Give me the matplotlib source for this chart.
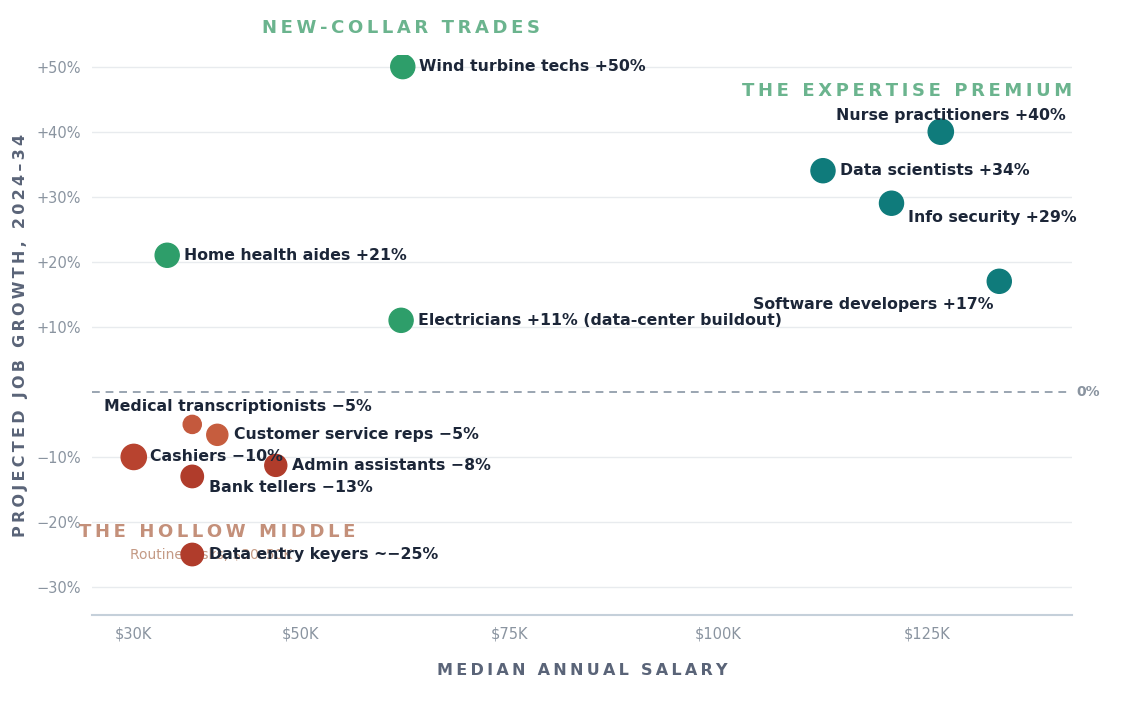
import matplotlib.pyplot as plt

jobs = ["Wind turbine techs +50%", "Nurse practitioners +40%", "Data scientists +34%",
        "Info security +29%", "Software developers +17%", "Home health aides +21%",
        "Electricians +11% (data-center buildout)", "Medical transcriptionists \u22125%",
        "Customer service reps \u22125%", "Cashiers \u221210%", "Admin assistants \u22128%",
        "Bank tellers \u221213%", "Data entry keyers ~\u221225%"]
salary = [62.2, 126.6, 112.5, 120.7, 133.6, 34, 62, 37, 40, 30, 47, 37, 37]
growth = [50, 40, 34, 29, 17, 21, 11, -5, -6.6, -10, -11.3, -13, -25]
sizes = [300, 330, 300, 300, 300, 300, 300, 170, 230, 330, 250, 260, 260]
colors = ["#2e9e6a", "#0f7b7b", "#0f7b7b", "#0f7b7b", "#0f7b7b", "#2e9e6a", "#2e9e6a",
          "#c4593d", "#c65d3e", "#b8432f", "#b03c2b", "#b03c2b", "#b03c2b"]
# label offsets in points (dx, dy, ha)
offs = [(12, 0, "left"), (90, 12, "right"), (12, 0, "left"), (12, -10, "left"),
        (-4, -17, "right"), (12, 0, "left"), (12, 0, "left"), (129, 13, "right"),
        (12, 0, "left"), (12, 0, "left"), (12, 0, "left"), (12, -8, "left"), (12, 0, "left")]


def spaced(s):
    return "\u2009".join(s)


fig = plt.figure(figsize=(11.26, 7.04), dpi=100)
ax = fig.add_axes([0.0817, 0.1264, 0.8703, 0.7956])
ax.set_xlim(25, 142.3)
ax.set_ylim(-34.3, 51.8)

for y in [50, 40, 30, 20, 10, -10, -20, -30]:
    ax.axhline(y, color="#e8ebee", lw=1, zorder=0)
ax.axhline(0, color="#9aa5b1", lw=1.4, ls=(0, (4, 3)), zorder=1)
ax.text(1.005, 0, "0%", transform=ax.get_yaxis_transform(), va="center",
        color="#8a94a0", fontsize=10, fontweight="bold")

ax.text(29.6, -25, "Routine tasks, $30\u201350K", ha="left", va="center",
        color="#c49a85", fontsize=10, zorder=1)

ax.scatter(salary, growth, s=sizes, c=colors, zorder=3)
for name, x, y, (dx, dy, ha) in zip(jobs, salary, growth, offs):
    ax.annotate(name, (x, y), xytext=(dx, dy), textcoords="offset points", ha=ha,
                va="center", fontsize=11.3, fontweight="bold", color="#1c2638", zorder=4)

ax.text(62, 56, spaced("NEW-COLLAR TRADES"), ha="center", va="center", color="#6bb48e",
        fontsize=13, fontweight="bold", clip_on=False)
ax.text(122.6, 46.2, spaced("THE EXPERTISE PREMIUM"), ha="center", va="center", color="#6bb48e",
        fontsize=13, fontweight="bold")
ax.text(40, -21.6, spaced("THE HOLLOW MIDDLE"), ha="center", va="center", color="#c4907a",
        fontsize=13, fontweight="bold")

ax.set_xticks([30, 50, 75, 100, 125])
ax.set_xticklabels(["$30K", "$50K", "$75K", "$100K", "$125K"])
ax.set_yticks([50, 40, 30, 20, 10, -10, -20, -30])
ax.set_yticklabels(["+50%", "+40%", "+30%", "+20%", "+10%", "\u221210%", "\u221220%", "\u221230%"])
ax.tick_params(length=0, labelsize=10.5, colors="#8a94a0", pad=8)
for s in ["top", "right", "left"]:
    ax.spines[s].set_visible(False)
ax.spines["bottom"].set_color("#c5d0da")
ax.spines["bottom"].set_linewidth(1.5)
ax.set_xlabel(spaced("MEDIAN ANNUAL SALARY"), fontsize=11.5, fontweight="bold", color="#5a6478", labelpad=16)
ax.set_ylabel(spaced("PROJECTED JOB GROWTH, 2024\u201334"), fontsize=11.5, fontweight="bold",
              color="#5a6478", labelpad=6)

fig.savefig("out.png", dpi=100, facecolor="white")
